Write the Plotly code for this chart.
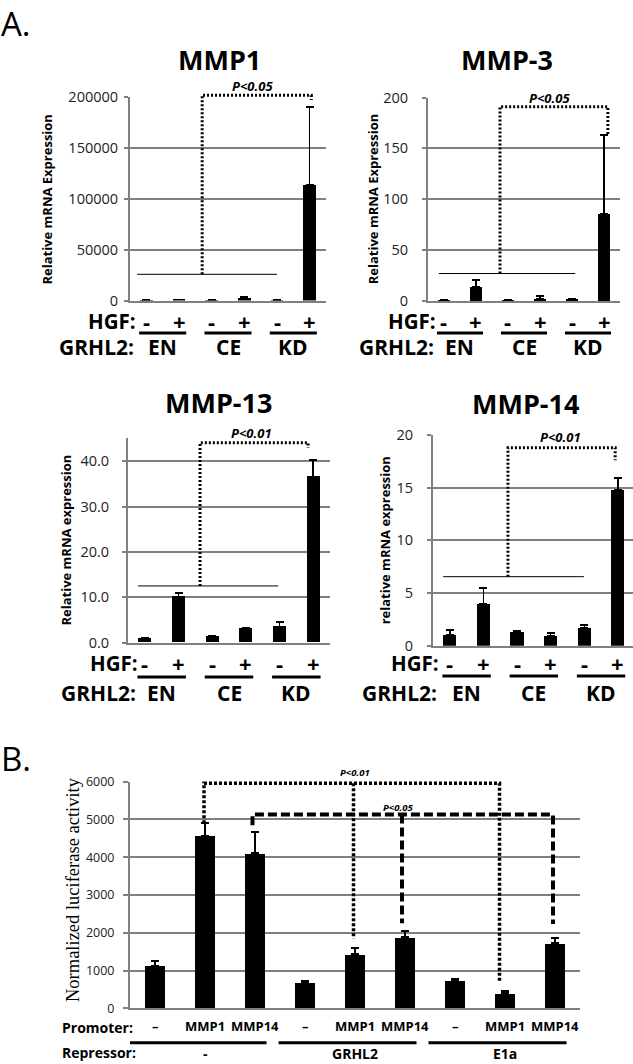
import plotly.graph_objects as go

W, H = 633, 1064

# ---------------- data ----------------
hgf_labels = ["-", "+", "-", "+", "-", "+"]
grhl2_groups = ["EN", "CE", "KD"]

mmp1_vals = [400, 800, 300, 2500, 300, 114000]
mmp1_err = [200, 400, 200, 700, 200, 75700]
mmp3_vals = [1.0, 14.0, 1.0, 2.0, 2.0, 86.0]
mmp3_err = [0.5, 6.5, 0.3, 3.0, 0.5, 77.0]
mmp13_vals = [0.9, 10.1, 1.4, 3.2, 3.5, 36.6]
mmp13_err = [0.3, 0.9, 0.2, 0.2, 1.1, 3.6]
mmp14_vals = [1.0, 4.0, 1.3, 0.9, 1.7, 14.8]
mmp14_err = [0.5, 1.5, 0.1, 0.3, 0.25, 1.1]

promoter_labels = ["\u2013", "MMP1", "MMP14", "\u2013", "MMP1", "MMP14", "\u2013", "MMP1", "MMP14"]
repressor_groups = ["-", "GRHL2", "E1a"]
luc_vals = [1127, 4566, 4100, 677, 1429, 1878, 722, 397, 1720]
luc_err = [130, 330, 570, 45, 160, 170, 45, 50, 150]

# ---------------- helpers ----------------
def px(x):
    return x / W


def py(y):
    return 1 - y / H


FONT = "Open Sans"
GRID = "#808080"

fig = go.Figure()
annotations = []
shapes = []


def val_to_paper(v, yd, yr):
    # yd = (top_px, bottom_px) ; yr = (lo, hi)
    top, bot = yd
    ypix = bot - (v - yr[0]) / (yr[1] - yr[0]) * (bot - top)
    return py(ypix)


def bracket_path(points, yd, yr):
    return "M " + " L ".join("%g,%g" % (a, val_to_paper(b, yd, yr)) for a, b in points)


panels = [
    dict(key="", title="MMP1", ytitle="Relative mRNA Expression", vals=mmp1_vals, err=mmp1_err,
         xd=(130, 326), yd=(96.7, 300.5), yr=(0, 200000), dtick=50000, fmt="d", xr=(-0.5, 5.5),
         title_xy=(219, 60), ytitle_x=47, hgf_y=321, line_y=333, grhl_y=347, lab_right=137,
         thin=(-0.28, 4.0, 25700), bracket=[(1.71, 25700), (1.71, 201500), (5.05, 201500), (5.05, 196800)],
         ptext="P<0.05", pxy=(3.24, 86), standoff=3),
    dict(key="2", title="MMP-3", ytitle="Relative mRNA Expression", vals=mmp3_vals, err=mmp3_err,
         xd=(428, 620), yd=(97.5, 301), yr=(0, 200), dtick=50, fmt="d", xr=(-0.5, 5.5),
         title_xy=(507, 60), ytitle_x=373, hgf_y=321, line_y=333, grhl_y=347, lab_right=437,
         thin=(-0.16, 4.1, 27), bracket=[(1.75, 27), (1.75, 191), (5.12, 191), (5.12, 163)],
         ptext="P<0.05", pxy=(3.3, 97.7), standoff=11),
    dict(key="3", title="MMP-13", ytitle="Relative mRNA expression", vals=mmp13_vals, err=mmp13_err,
         xd=(128, 330), yd=(438.4, 642.7), yr=(0, 45), dtick=10, fmt=".1f", xr=(-0.5, 5.5),
         title_xy=(218, 402), ytitle_x=66, hgf_y=663, line_y=677, grhl_y=693, lab_right=139,
         thin=(-0.2, 3.96, 12.5), bracket=[(1.64, 12.5), (1.64, 44.05), (4.85, 44.05), (4.85, 42.9)],
         ptext="P<0.01", pxy=(3.18, 432.7), standoff=10),
    dict(key="4", title="MMP-14", ytitle="relative mRNA expression", vals=mmp14_vals, err=mmp14_err,
         xd=(433, 633), yd=(435, 645.7), yr=(0, 20), dtick=5, fmt="d", xr=(-0.5, 5.45),
         title_xy=(525, 403), ytitle_x=385, hgf_y=663, line_y=676, grhl_y=693, lab_right=440,
         thin=(-0.2, 3.99, 6.55), bracket=[(1.73, 6.55), (1.73, 18.8), (4.92, 18.8), (4.92, 17.6)],
         ptext="P<0.01", pxy=(3.28, 437), standoff=11),
]

for p in panels:
    k = p["key"]
    xa = "x" + k
    ya = "y" + k
    fig.add_trace(go.Bar(
        x=list(range(len(p["vals"]))), y=p["vals"], width=0.39,
        marker=dict(color="black", line=dict(width=0)),
        error_y=dict(type="data", array=p["err"], arrayminus=[0] * len(p["err"]), symmetric=False,
                     color="black", thickness=1.5, width=4),
        xaxis=xa, yaxis=ya, showlegend=False, hoverinfo="skip",
    ))
    fig.layout["xaxis" + k] = dict(
        domain=[px(p["xd"][0]), px(p["xd"][1])], range=list(p["xr"]), anchor=ya,
        showgrid=False, zeroline=False, showticklabels=False, ticks="", automargin=False,
        showline=True, linecolor=GRID, linewidth=2, fixedrange=True,
    )
    fig.layout["yaxis" + k] = dict(
        domain=[py(p["yd"][1]), py(p["yd"][0])], range=list(p["yr"]), anchor=xa, automargin=False,
        dtick=p["dtick"], tick0=0, tickformat=p["fmt"], showgrid=True, gridcolor=GRID, gridwidth=2,
        zeroline=False, showline=True, linecolor=GRID, linewidth=2, ticks="outside", ticklen=4,
        tickcolor=GRID, tickwidth=2, ticklabelstandoff=p["standoff"],
        tickfont=dict(family=FONT, size=14.5, color="#222"), fixedrange=True,
    )
    # title
    annotations.append(dict(text="<b>%s</b>" % p["title"], x=px(p["title_xy"][0]), y=py(p["title_xy"][1]),
                            xref="paper", yref="paper", showarrow=False, xanchor="center", yanchor="middle",
                            font=dict(family=FONT, size=27, color="black")))
    # y title
    annotations.append(dict(text="<b>%s</b>" % p["ytitle"], x=px(p["ytitle_x"]),
                            y=py((p["yd"][0] + p["yd"][1]) / 2), xref="paper", yref="paper",
                            showarrow=False, textangle=-90, xanchor="center", yanchor="middle",
                            font=dict(family=FONT, size=13, color="black")))
    # HGF row
    annotations.append(dict(text="<b>HGF:</b>", x=px(p["lab_right"]), y=py(p["hgf_y"]), xref="paper",
                            yref="paper", showarrow=False, xanchor="right", yanchor="middle", borderpad=0,
                            font=dict(family=FONT, size=20.5, color="black")))
    for i, lab in enumerate(hgf_labels):
        annotations.append(dict(text="<b>%s</b>" % lab, x=i, y=py(p["hgf_y"]), xref=xa, yref="paper",
                                showarrow=False, xanchor="center", yanchor="middle", borderpad=0,
                                font=dict(family=FONT, size=22, color="black")))
    annotations.append(dict(text="<b>GRHL2:</b>", x=px(p["lab_right"] - 2), y=py(p["grhl_y"]), xref="paper",
                            yref="paper", showarrow=False, xanchor="right", yanchor="middle", borderpad=0,
                            font=dict(family=FONT, size=21, color="black")))
    for g, lab in enumerate(grhl2_groups):
        annotations.append(dict(text="<b>%s</b>" % lab, x=2 * g + 0.5, y=py(p["grhl_y"]), xref=xa,
                                yref="paper", showarrow=False, xanchor="center", yanchor="middle", borderpad=0,
                                font=dict(family=FONT, size=21, color="black")))
        shapes.append(dict(type="line", xref=xa, yref="paper", x0=2 * g - 0.22, x1=2 * g + 1.22,
                           y0=py(p["line_y"]), y1=py(p["line_y"]), line=dict(color="black", width=3)))
    # significance
    x0, x1, yv = p["thin"]
    shapes.append(dict(type="line", xref=xa, yref="paper", x0=x0, x1=x1,
                       y0=val_to_paper(yv, p["yd"], p["yr"]), y1=val_to_paper(yv, p["yd"], p["yr"]),
                       line=dict(color="black", width=1)))
    shapes.append(dict(type="path", xref=xa, yref="paper", path=bracket_path(p["bracket"], p["yd"], p["yr"]),
                       line=dict(color="black", width=3, dash="2px,2px")))
    annotations.append(dict(text="<b><i>%s</i></b>" % p["ptext"], x=p["pxy"][0], y=py(p["pxy"][1]),
                            xref=xa, yref="paper", showarrow=False, xanchor="center", yanchor="middle",
                            font=dict(family=FONT, size=13, color="black")))

# ---------------- panel B ----------------
B_YD = (781.7, 1008.3)
B_YR = (0, 6000)
fig.add_trace(go.Bar(
    x=list(range(len(luc_vals))), y=luc_vals, width=0.4,
    marker=dict(color="black", line=dict(width=0)),
    error_y=dict(type="data", array=luc_err, arrayminus=[0] * len(luc_err), symmetric=False,
                 color="black", thickness=2, width=4),
    xaxis="x5", yaxis="y5", showlegend=False, hoverinfo="skip",
))
fig.layout["xaxis5"] = dict(domain=[px(130), px(580)], range=[-0.5, 8.5], anchor="y5", showgrid=False,
                            zeroline=False, showticklabels=False, ticks="", showline=True, linecolor=GRID,
                            linewidth=2, fixedrange=True, automargin=False)
fig.layout["yaxis5"] = dict(domain=[py(B_YD[1]), py(B_YD[0])], range=list(B_YR), anchor="x5", dtick=1000,
                            tick0=0, tickformat="d", showgrid=True, gridcolor=GRID, gridwidth=2, zeroline=False,
                            showline=True, linecolor=GRID, linewidth=2, ticks="outside", ticklen=5,
                            tickcolor=GRID, tickwidth=2, ticklabelstandoff=6, automargin=False,
                            tickfont=dict(family=FONT, size=12.5, color="#222"), fixedrange=True)

annotations.append(dict(text="Normalized luciferase activity", x=px(73), y=py(890), xref="paper", yref="paper",
                        showarrow=False, textangle=-90, xanchor="center", yanchor="middle",
                        font=dict(family="Liberation Serif", size=18.5, color="black")))
annotations.append(dict(text="<b>Promoter:</b>", x=px(61), y=py(1027), xref="paper", yref="paper",
                        showarrow=False, xanchor="left", yanchor="middle", borderpad=0,
                        font=dict(family=FONT, size=14, color="black")))
for i, lab in enumerate(promoter_labels):
    annotations.append(dict(text="<b>%s</b>" % lab, x=i, y=py(1026), xref="x5", yref="paper",
                            showarrow=False, xanchor="center", yanchor="middle", borderpad=0,
                            font=dict(family=FONT, size=13, color="black")))
annotations.append(dict(text="<b>Repressor:</b>", x=px(61), y=py(1052), xref="paper", yref="paper",
                        showarrow=False, xanchor="left", yanchor="middle", borderpad=0,
                        font=dict(family=FONT, size=14, color="black")))
for g, lab in enumerate(repressor_groups):
    annotations.append(dict(text="<b>%s</b>" % lab, x=3 * g + 1, y=0, xref="x5", yref="paper",
                            showarrow=False, xanchor="center", yanchor="bottom", borderpad=0,
                            font=dict(family=FONT, size=14, color="black")))
    shapes.append(dict(type="line", xref="x5", yref="paper", x0=3 * g - 0.53, x1=3 * g + 2.23,
                       y0=py(1042.7), y1=py(1042.7), line=dict(color="black", width=3)))

# brackets B
b_dot = [(0.98, 4900), (0.98, 5960), (6.89, 5960), (6.89, 704)]
b_dot2 = [(3.97, 5960), (3.97, 1850)]
b_dash = [(1.95, 4850), (1.95, 5130), (7.96, 5130), (7.96, 2230)]
b_dash2 = [(4.94, 5130), (4.94, 2250)]
for pts in (b_dot, b_dot2):
    shapes.append(dict(type="path", xref="x5", yref="paper", path=bracket_path(pts, B_YD, B_YR),
                       line=dict(color="black", width=3.5, dash="3px,2px")))
for pts in (b_dash, b_dash2):
    shapes.append(dict(type="path", xref="x5", yref="paper", path=bracket_path(pts, B_YD, B_YR),
                       line=dict(color="black", width=4, dash="9px,4px")))
annotations.append(dict(text="<b><i>P<0.01</i></b>", x=px(355), y=py(772), xref="paper", yref="paper",
                        showarrow=False, xanchor="center", yanchor="middle",
                        font=dict(family=FONT, size=9.5, color="black")))
annotations.append(dict(text="<b><i>P<0.05</i></b>", x=px(398), y=py(807), xref="paper", yref="paper",
                        showarrow=False, xanchor="center", yanchor="middle",
                        font=dict(family=FONT, size=9.5, color="black")))

# panel letters
annotations.append(dict(text="A.", x=0, y=1, xref="paper", yref="paper", showarrow=False, borderpad=0,
                        xanchor="left", yanchor="top", font=dict(family=FONT, size=33, color="black")))
annotations.append(dict(text="B.", x=0, y=py(758), xref="paper", yref="paper", showarrow=False, borderpad=0,
                        xanchor="left", yanchor="middle", font=dict(family=FONT, size=33, color="black")))

fig.update_layout(width=W, height=H, margin=dict(l=0, r=0, t=0, b=0, autoexpand=False), paper_bgcolor="white",
                  plot_bgcolor="white", showlegend=False, annotations=annotations, shapes=shapes,
                  bargap=0)
fig.write_html("out.html", config={"displayModeBar": False},
               post_script="document.body.style.margin='0px';document.body.style.padding='0px';")
